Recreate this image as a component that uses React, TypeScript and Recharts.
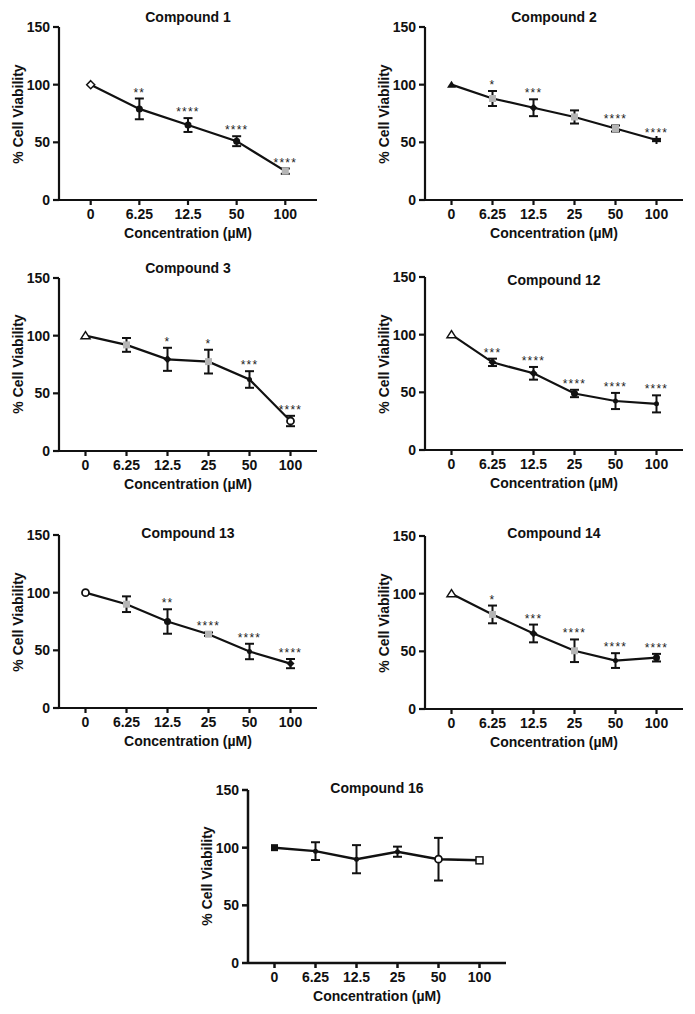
import React from 'react';
import { LineChart, Line, XAxis, YAxis, ErrorBar, LabelList } from 'recharts';

// concentrations (µM)
const conc5 = ['0', '6.25', '12.5', '50', '100'];
const conc6 = ['0', '6.25', '12.5', '25', '50', '100'];
const yTicks = [0, 50, 100, 150];

// % viability, error half-width, significance
const c1Mean = [100, 79, 65, 51, 25];
const c1Err = [0, 9, 6, 4.3, 2.3];
const c1Stars = ['', '**', '****', '****', '****'];

const c2Mean = [100, 88, 80, 72, 62, 52];
const c2Err = [0, 6.5, 7.3, 5.7, 2.6, 1];
const c2Stars = ['', '*', '***', '', '****', '****'];

const c3Mean = [100, 92, 79.5, 77.5, 62, 26];
const c3Err = [0, 6, 10, 10.3, 7.2, 4.5];
const c3Stars = ['', '', '*', '*', '***', '****'];

const c12Mean = [100, 76, 66.5, 49, 42.5, 40];
const c12Err = [0, 3.2, 5.5, 3.2, 7, 7.4];
const c12Stars = ['', '***', '****', '****', '****', '****'];

const c13Mean = [100, 90, 75, 64, 49, 38.5];
const c13Err = [0, 6.8, 10.6, 1.5, 6.7, 4];
const c13Stars = ['', '', '**', '****', '****', '****'];

const c14Mean = [100, 82, 65.5, 50.5, 42, 44.5];
const c14Err = [0, 7.7, 7.7, 9.8, 6.4, 3.3];
const c14Stars = ['', '*', '***', '****', '****', '****'];

const c16Mean = [100, 97, 90, 96.5, 90, 89];
const c16Err = [0, 7.7, 12.2, 4.4, 18.5, 0];
const c16Stars = ['', '', '', '', '', ''];

// marker symbol per point (GraphPad style)
const c1Marks = ['diamondOpen', 'circle', 'circle', 'circle', 'gray'];
const c2Marks = ['triangle', 'gray', 'diamond', 'gray', 'gray', 'plus'];
const c3Marks = ['triangleOpen', 'gray', 'diamond', 'gray', 'dot', 'circleOpen'];
const c12Marks = ['triangleOpen', 'diamond', 'diamond', 'circle', 'dot', 'dot'];
const c13Marks = ['circleOpen', 'gray', 'circle', 'gray', 'dot', 'diamond'];
const c14Marks = ['triangleOpen', 'gray', 'diamond', 'gray', 'dot', 'circle'];
const c16Marks = ['square', 'dot', 'dot', 'dot', 'circleOpen', 'squareOpen'];

const FONT = '"Liberation Sans", Arial, sans-serif';
const PW = 258; // plot width
const PH = 173; // plot height

function Marker({ cx, cy, kind }: { cx: number; cy: number; kind: string }) {
  const k = '#111';
  switch (kind) {
    case 'diamondOpen':
      return <path d={`M${cx},${cy - 4}L${cx + 4},${cy}L${cx},${cy + 4}L${cx - 4},${cy}Z`} fill="#fff" stroke={k} strokeWidth={1.5} />;
    case 'diamond':
      return <path d={`M${cx},${cy - 4}L${cx + 4},${cy}L${cx},${cy + 4}L${cx - 4},${cy}Z`} fill={k} />;
    case 'triangle':
      return <path d={`M${cx},${cy - 4}L${cx + 4.5},${cy + 3}L${cx - 4.5},${cy + 3}Z`} fill={k} />;
    case 'triangleOpen':
      return <path d={`M${cx},${cy - 4}L${cx + 4.5},${cy + 3}L${cx - 4.5},${cy + 3}Z`} fill="#fff" stroke={k} strokeWidth={1.5} />;
    case 'circle':
      return <circle cx={cx} cy={cy} r={3.5} fill={k} />;
    case 'circleOpen':
      return <circle cx={cx} cy={cy} r={3.5} fill="#fff" stroke={k} strokeWidth={1.8} />;
    case 'square':
      return <rect x={cx - 3.5} y={cy - 3.5} width={7} height={7} fill={k} />;
    case 'squareOpen':
      return <rect x={cx - 3.5} y={cy - 3.5} width={7} height={7} fill="#fff" stroke={k} strokeWidth={1.5} />;
    case 'gray':
      return <rect x={cx - 3.5} y={cy - 3.5} width={7} height={7} fill="#b5b5b5" />;
    case 'plus':
      return <path d={`M${cx - 4},${cy}H${cx + 4}M${cx},${cy - 4}V${cy + 4}`} stroke={k} strokeWidth={2} />;
    default:
      return <circle cx={cx} cy={cy} r={2.5} fill={k} />;
  }
}

interface PanelProps {
  title: string;
  cats: string[];
  mean: number[];
  err: number[];
  stars: string[];
  marks: string[];
  left: number; // plot left
  top: number; // plot top
  titleDy: number;
  thick?: boolean;
}

function Panel({ title, cats, mean, err, stars, marks, left, top, titleDy, thick }: PanelProps) {
  const data = cats.map((c, i) => ({
    c,
    v: mean[i],
    e: err[i],
    top: mean[i] + err[i],
    stars: stars[i],
  }));
  const pad = cats.length === 5 ? 31.7 : 26.5;
  const sw = thick ? 2.5 : 2.2;
  const tick = { fontSize: 14, fontWeight: 700, fill: '#111', fontFamily: FONT };
  const cx = left + PW / 2;

  return (
    <>
      <div
        style={{
          position: 'absolute', left: cx, top: top + titleDy,
          transform: 'translate(-50%, -50%)', fontSize: 14, fontWeight: 700, whiteSpace: 'nowrap',
        }}
      >
        {title}
      </div>
      <div
        style={{
          position: 'absolute', left: left - 41, top: top + PH / 2,
          transform: 'translate(-50%, -50%) rotate(-90deg)', fontSize: 14, fontWeight: 700, whiteSpace: 'nowrap',
        }}
      >
        % Cell Viability
      </div>
      <div
        style={{
          position: 'absolute', left: cx, top: top + PH + 33,
          transform: 'translate(-50%, -50%)', fontSize: 14, fontWeight: 700, whiteSpace: 'nowrap',
        }}
      >
        Concentration (µM)
      </div>
      <div style={{ position: 'absolute', left: left - 60, top: top - 10 }}>
        <LineChart width={60 + PW + 12} height={10 + PH + 30} data={data} margin={{ top: 10, right: 12, left: 0, bottom: 0 }}>
          <XAxis
            dataKey="c"
            type="category"
            scale="point"
            padding={{ left: pad, right: pad }}
            height={30}
            tick={tick}
            tickSize={5}
            tickMargin={4}
            axisLine={{ stroke: '#111', strokeWidth: sw }}
            tickLine={{ stroke: '#111', strokeWidth: sw }}
            interval={0}
          />
          <YAxis
            type="number"
            domain={[0, 150]}
            ticks={yTicks}
            width={60}
            tick={tick}
            tickSize={6}
            tickMargin={3}
            axisLine={{ stroke: '#111', strokeWidth: sw }}
            tickLine={{ stroke: '#111', strokeWidth: sw }}
            allowDataOverflow
          />
          <Line
            dataKey="v"
            stroke="#111"
            strokeWidth={sw}
            isAnimationActive={false}
            activeDot={false}
            dot={(p: any) => <Marker key={`m-${p.index}`} cx={p.cx} cy={p.cy} kind={marks[p.index]} />}
          >
            <ErrorBar dataKey="e" width={4.5} stroke="#111" strokeWidth={2} direction="y" isAnimationActive={false} />
          </Line>
          <Line dataKey="top" stroke="none" dot={false} activeDot={false} isAnimationActive={false}>
            <LabelList
              dataKey="stars"
              position="top"
              offset={2}
              style={{ fontSize: 12, letterSpacing: 1.2, fill: '#222', fontFamily: FONT }}
            />
          </Line>
        </LineChart>
      </div>
    </>
  );
}

export default function App() {
  return (
    <div
      style={{
        position: 'absolute', left: 0, top: 0, width: 695, height: 1014,
        background: '#fff', fontFamily: FONT, color: '#111',
      }}
    >
      <Panel title="Compound 1" cats={conc5} mean={c1Mean} err={c1Err} stars={c1Stars} marks={c1Marks} left={59} top={27} titleDy={-10} />
      <Panel title="Compound 2" cats={conc6} mean={c2Mean} err={c2Err} stars={c2Stars} marks={c2Marks} left={425} top={27} titleDy={-10} />
      <Panel title="Compound 3" cats={conc6} mean={c3Mean} err={c3Err} stars={c3Stars} marks={c3Marks} left={59} top={277.5} titleDy={-9.5} />
      <Panel title="Compound 12" cats={conc6} mean={c12Mean} err={c12Err} stars={c12Stars} marks={c12Marks} left={425} top={277} titleDy={3} />
      <Panel title="Compound 13" cats={conc6} mean={c13Mean} err={c13Err} stars={c13Stars} marks={c13Marks} left={59} top={535} titleDy={-2.5} />
      <Panel title="Compound 14" cats={conc6} mean={c14Mean} err={c14Err} stars={c14Stars} marks={c14Marks} left={425} top={536} titleDy={-3} />
      <Panel title="Compound 16" cats={conc6} mean={c16Mean} err={c16Err} stars={c16Stars} marks={c16Marks} left={248} top={789.5} titleDy={-1.5} thick />
    </div>
  );
}
